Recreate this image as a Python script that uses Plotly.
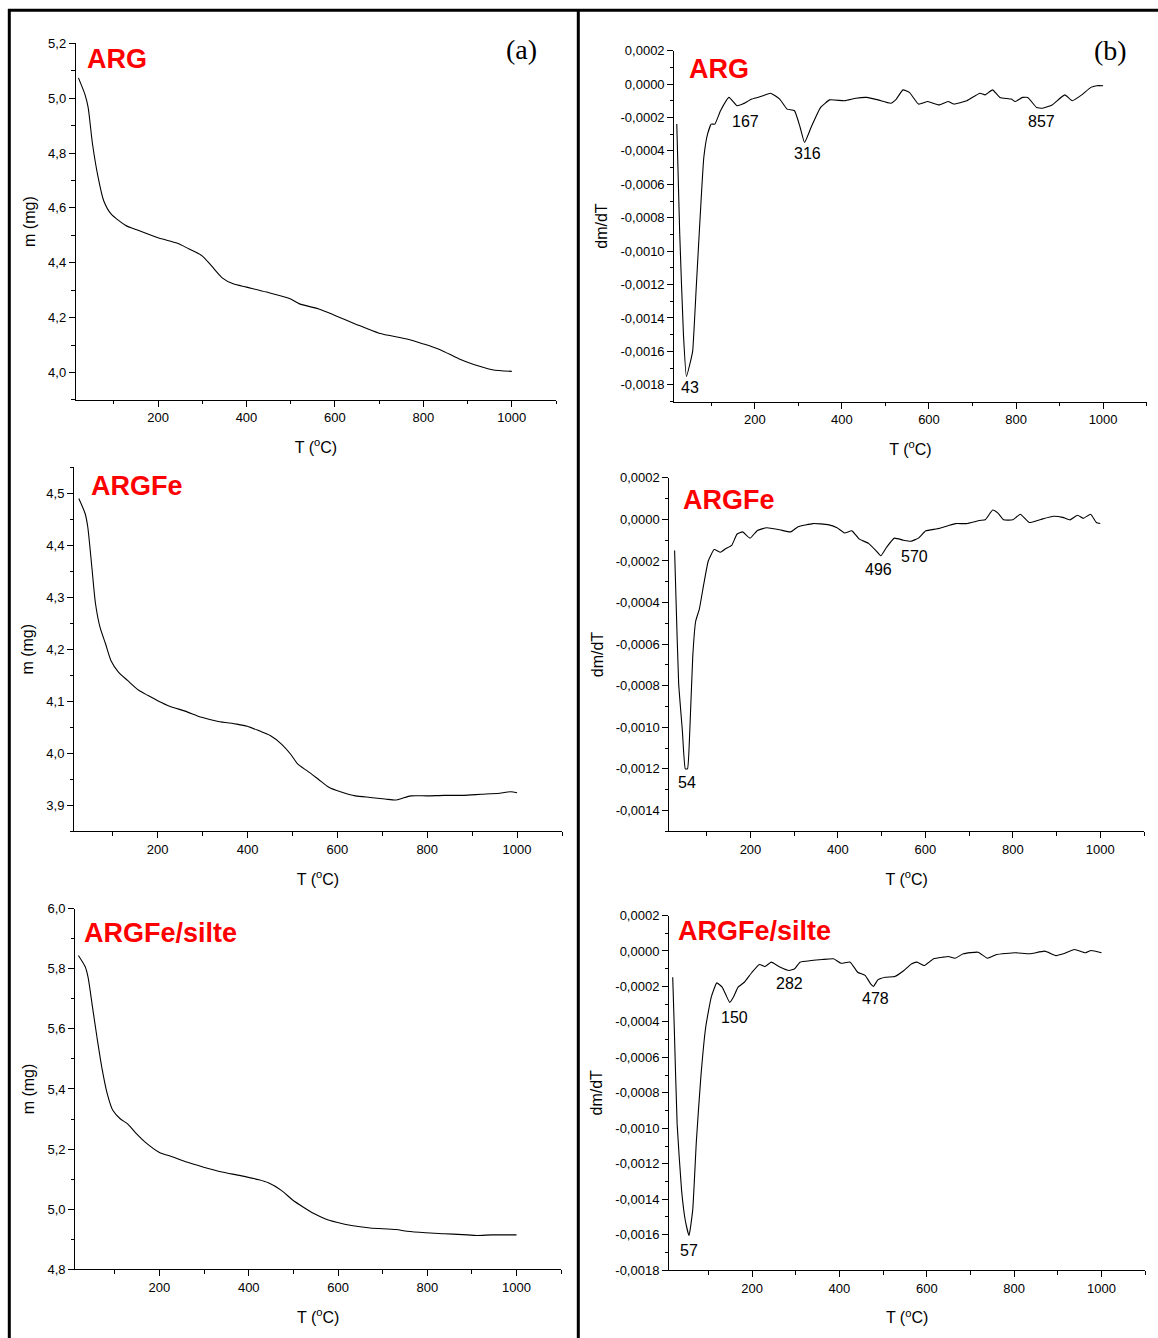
import plotly.graph_objects as go

# ---------------- data ----------------
# ARG - TG
arg_tg_T = [20, 35, 41.8, 51.8, 64.4, 76.9, 93.7, 127, 152, 200, 244, 269, 299, 320, 345, 370, 400,
            445, 500, 520, 562, 600, 646, 700, 763, 800, 838, 880, 914, 956, 1000]
arg_tg_m = [5.074, 5.012, 4.967, 4.833, 4.712, 4.627, 4.578, 4.536, 4.520, 4.491, 4.471, 4.451, 4.426,
            4.390, 4.345, 4.323, 4.311, 4.293, 4.268, 4.250, 4.232, 4.208, 4.177, 4.143, 4.122, 4.104,
            4.083, 4.050, 4.029, 4.010, 4.004]

# ARG - DTG (units of 1e-4)
arg_dtg_T = [20.5, 27.3, 35.8, 42.6, 52.9, 57, 65.6, 74.1, 82.6, 91.2, 99.7, 108, 121, 140.5, 159, 172,
             193, 219, 236, 257, 274, 291, 304, 314, 329, 351, 372, 406, 432, 457, 483, 512, 525, 540,
             555, 576, 597, 623, 644, 657, 687, 717, 729, 746, 763, 789, 798, 815, 827, 847, 861, 883,
             912, 929, 951, 972, 985, 1000]
arg_dtg_v = [-2.39, -8.98, -14.97, -17.5, -16.5, -16.0, -12.0, -8.0, -4.4, -3.0, -2.4, -2.4, -1.6, -0.8,
             -1.3, -1.2, -0.9, -0.7, -0.55, -0.9, -1.5, -1.6, -2.6, -3.5, -2.6, -1.4, -0.95, -1.0, -0.85,
             -0.8, -0.95, -1.15, -0.9, -0.35, -0.5, -1.2, -1.05, -1.25, -1.05, -1.2, -1.0, -0.55, -0.65,
             -0.35, -0.8, -0.9, -1.05, -0.8, -0.8, -1.4, -1.45, -1.25, -0.65, -1.0, -0.65, -0.2, -0.1, -0.1]

# ARGFe - TG
argfe_tg_T = [24.5, 38.5, 44.3, 53.4, 61.6, 71.5, 83.8, 96.2, 112.7, 133, 158, 178.6, 200, 228, 261, 298,
              335, 376, 399.4, 426, 450.5, 475, 496, 512, 533, 557.6, 582, 607, 640, 673, 706, 730.7,
              743, 764, 800.7, 838, 879, 920, 961, 986, 1000]
argfe_tg_m = [4.490, 4.461, 4.436, 4.359, 4.288, 4.243, 4.211, 4.178, 4.156, 4.140, 4.121, 4.111, 4.101,
              4.090, 4.081, 4.069, 4.061, 4.056, 4.052, 4.043, 4.034, 4.018, 3.998, 3.979, 3.966, 3.950,
              3.934, 3.926, 3.918, 3.915, 3.912, 3.910, 3.913, 3.918, 3.918, 3.919, 3.919, 3.921, 3.923,
              3.926, 3.924]

# ARGFe - DTG (units of 1e-4)
argfe_dtg_T = [26.5, 29.8, 35.8, 44.2, 51, 56, 61, 68, 74.7, 83.2, 93.3, 103.5, 117, 131.4, 144, 157,
               169.5, 182, 199, 216, 237, 267, 292, 309, 343, 377, 398, 415, 432, 449, 470, 487, 498,
               511, 529, 550, 567, 584, 601, 627, 652, 669, 694, 724, 737, 754, 766, 779, 800, 817, 838,
               864, 893, 914, 931, 948, 961, 978, 991, 1000]
argfe_dtg_v = [-1.5, -3.9, -7.9, -10.15, -12.0, -12.0, -10.3, -6.6, -4.9, -4.3, -3.1, -2.0, -1.45, -1.58,
               -1.4, -1.25, -0.7, -0.6, -0.9, -0.53, -0.4, -0.5, -0.6, -0.35, -0.2, -0.25, -0.4, -0.65,
               -0.55, -0.95, -1.15, -1.5, -1.75, -1.35, -0.9, -1.0, -1.05, -0.9, -0.55, -0.45, -0.3, -0.2,
               -0.2, -0.05, -0.02, 0.45, 0.3, -0.02, -0.02, 0.25, -0.15, 0.0, 0.15, 0.1, -0.02, 0.2, 0.05,
               0.25, -0.15, -0.2]

# ARGFe/silte - TG
silte_tg_T = [18.4, 33.4, 40, 50, 60, 70.7, 83.1, 95.5, 112, 128.7, 145, 170, 199, 232, 261, 299, 340,
              381.6, 423, 444, 473, 497.6, 522.5, 547, 572, 597, 630, 672, 730, 754.6, 796, 837.5, 879,
              912, 945, 1000]
silte_tg_m = [5.844, 5.807, 5.772, 5.672, 5.572, 5.473, 5.384, 5.329, 5.301, 5.284, 5.257, 5.221, 5.190,
              5.173, 5.157, 5.140, 5.124, 5.112, 5.098, 5.088, 5.063, 5.032, 5.007, 4.985, 4.968, 4.957,
              4.946, 4.938, 4.933, 4.927, 4.922, 4.919, 4.916, 4.913, 4.915, 4.915]

# ARGFe/silte - DTG (units of 1e-4)
silte_dtg_T = [18.5, 21.8, 28.6, 38.8, 47.3, 55.8, 64.3, 72.7, 82.9, 94, 106.7, 119.4, 132, 140.6, 149,
               157.6, 167.8, 183, 200, 217, 229.7, 244, 263.6, 284.8, 297.6, 310, 335.7, 361, 386.6,
               403.6, 424.8, 441.8, 458.8, 471.5, 478, 488, 505, 526.6, 547.8, 564.8, 577.5, 594.5,
               615.7, 636.9, 649.6, 664.9, 683.6, 717.5, 738.7, 760, 802, 836, 870, 895.6, 912.6, 938,
               963.5, 976, 1000]
silte_dtg_v = [-1.48, -4.1, -9.75, -13.5, -15.2, -16.05, -14.6, -10.7, -7.1, -4.3, -2.6, -1.8, -2.05,
               -2.5, -2.9, -2.6, -2.05, -1.75, -1.2, -0.76, -0.88, -0.63, -0.9, -1.1, -1.0, -0.63, -0.54,
               -0.48, -0.44, -0.69, -0.63, -1.2, -1.38, -1.85, -2.0, -1.63, -1.48, -1.44, -1.1, -0.73,
               -0.63, -0.82, -0.44, -0.35, -0.31, -0.41, -0.16, -0.07, -0.41, -0.2, -0.1, -0.16, -0.01,
               -0.26, -0.16, 0.08, -0.1, 0.03, -0.1]

sample_names = ["ARG", "ARGFe", "ARGFe/silte"]
# peak labels: (text, T position, dm/dT position in 1e-4)
peaks_arg = [("43", 51, -18.18), ("167", 177.6, -2.25), ("316", 320, -4.17), ("857", 858.4, -2.25)]
peaks_argfe = [("54", 54.9, -12.66), ("496", 493, -2.41), ("570", 576, -1.77)]
peaks_silte = [("57", 55.7, -16.89), ("150", 160, -3.73), ("282", 286.4, -1.85), ("478", 482, -2.70)]

SCALE = 1e-4
W, H = 1158, 1338
FONT = "Liberation Sans, Arial, sans-serif"

# vertical mapping correction measured from the rendered page (observed = A + B * specified)
A_OFF, B_SC = 6.4, 0.98889

fig = go.Figure()

def px_x(p):
    return p / W

def px_y(p):
    spec = (p - A_OFF) / B_SC
    return 1 - spec / H

# panel domains (target pixels): left, right, top, bottom
panels = [
    (75.8, 556.0, 42.7, 399.3),
    (674.2, 1146.6, 50.0, 401.0),
    (74.0, 562.0, 466.7, 830.7),
    (669.4, 1144.0, 477.3, 830.7),
    (75.1, 561.2, 908.0, 1269.0),
    (669.0, 1145.2, 915.0, 1269.7),
]

series = [
    (arg_tg_T, arg_tg_m, False),
    (arg_dtg_T, arg_dtg_v, True),
    (argfe_tg_T, argfe_tg_m, False),
    (argfe_dtg_T, argfe_dtg_v, True),
    (silte_tg_T, silte_tg_m, False),
    (silte_dtg_T, silte_dtg_v, True),
]

yranges = [(3.9, 5.2), (-0.0019, 0.0002), (3.85, 4.55), (-0.0015, 0.0002), (4.8, 6.0), (-0.0018, 0.0002)]
ydticks = [0.2, 0.0002, 0.1, 0.0002, 0.2, 0.0002]
xranges = [(14, 1100), (14.6, 1100), (13.8, 1100), (14.6, 1100), (11, 1100), (10, 1100)]

for i, ((T, v, is_dtg), (l, r, t, b)) in enumerate(zip(series, panels)):
    n = i + 1
    xa = "x" if n == 1 else f"x{n}"
    ya = "y" if n == 1 else f"y{n}"
    yv = [val * SCALE for val in v] if is_dtg else v
    fig.add_trace(go.Scatter(
        x=T, y=yv, mode="lines", xaxis=xa, yaxis=ya, showlegend=False,
        line=dict(color="black", width=1.1, shape="spline", smoothing=0.4 if is_dtg else 0.7),
        hoverinfo="skip"))

    lo, hi = yranges[i]
    dt = ydticks[i]
    vals = []
    k = int(-(-lo // dt)) - 1
    while k * dt <= hi + 1e-12:
        if k * dt >= lo - 1e-12:
            vals.append(round(k * dt, 6))
        k += 1
    if is_dtg:
        texts = [(f"{val:.4f}").replace(".", ",").replace("-0,0000", "0,0000") for val in vals]
    else:
        texts = [(f"{val:.1f}").replace(".", ",") for val in vals]

    axis_common = dict(showline=True, linecolor="black", linewidth=1, showgrid=False, zeroline=False,
                       ticks="outside", tickcolor="black", ticklen=6, tickwidth=1,
                       tickfont=dict(family=FONT, size=13, color="black"))
    fig.layout[("xaxis" if n == 1 else f"xaxis{n}")] = dict(
        domain=[px_x(l), px_x(r)], anchor=ya, range=list(xranges[i]),
        tickmode="array", tickvals=[200, 400, 600, 800, 1000], ticktext=["200", "400", "600", "800", "1000"],
        minor=dict(tickmode="array", tickvals=[100, 300, 500, 700, 900, 1100], ticks="outside",
                   ticklen=3.5, tickcolor="black", tickwidth=1),
        title=dict(text="T (<sup>o</sup>C)", font=dict(family=FONT, size=16, color="black"), standoff=17),
        **axis_common)
    minor_vals = []
    k = int(-(-lo // (dt / 2))) - 1
    while k * dt / 2 <= hi + 1e-12:
        mv = round(k * dt / 2, 6)
        if mv >= lo - 1e-12 and all(abs(mv - vv) > 1e-9 for vv in vals):
            minor_vals.append(mv)
        k += 1
    fig.layout[("yaxis" if n == 1 else f"yaxis{n}")] = dict(
        domain=[px_y(b), px_y(t)], anchor=xa, range=[lo, hi],
        tickmode="array", tickvals=vals, ticktext=texts,
        minor=dict(tickmode="array", tickvals=minor_vals, ticks="outside", ticklen=3.5,
                   tickcolor="black", tickwidth=1),
        title=dict(text="dm/dT" if is_dtg else "m (mg)", font=dict(family=FONT, size=16, color="black"),
                   standoff=8),
        **axis_common)

# sample name labels (red, bold) in paper coordinates
name_pos = [(85, 58), (687, 68), (89, 485), (681, 499), (82, 932.7), (676, 930)]
name_idx = [0, 0, 1, 1, 2, 2]
for (px, py), idx in zip(name_pos, name_idx):
    fig.add_annotation(x=px_x(px), y=px_y(py), xref="paper", yref="paper", xanchor="left", yanchor="middle",
                       text=f"<b>{sample_names[idx]}</b>", showarrow=False,
                       font=dict(family=FONT, size=27, color="#ff0000"))

# (a) / (b)
for txt, px, py in [("(a)", 521, 49), ("(b)", 1110, 50)]:
    fig.add_annotation(x=px_x(px), y=px_y(py), xref="paper", yref="paper", xanchor="center", yanchor="middle",
                       text=txt, showarrow=False,
                       font=dict(family="Liberation Serif, Times New Roman, serif", size=28, color="black"))

# peak labels in data coordinates
for peaks, xa, ya in [(peaks_arg, "x2", "y2"), (peaks_argfe, "x4", "y4"), (peaks_silte, "x6", "y6")]:
    for txt, tx, ty in peaks:
        fig.add_annotation(x=tx, y=ty * SCALE, xref=xa, yref=ya, text=txt, showarrow=False,
                           xanchor="center", yanchor="middle",
                           font=dict(family=FONT, size=16, color="black"))

# frame lines
frame = [(8, 9.7, W, 9.7), (9.3, 8.5, 9.3, 1345), (578.3, 8.5, 578.3, 1345)]
for x0, y0, x1, y1 in frame:
    fig.add_shape(type="line", xref="paper", yref="paper", x0=px_x(x0), y0=px_y(y0), x1=px_x(x1), y1=px_y(y1),
                  line=dict(color="black", width=3))

fig.update_layout(width=W, height=H, margin=dict(l=0, r=0, t=0, b=0), paper_bgcolor="white",
                  plot_bgcolor="white", showlegend=False, font=dict(family=FONT))

fig.write_html("out.html")
